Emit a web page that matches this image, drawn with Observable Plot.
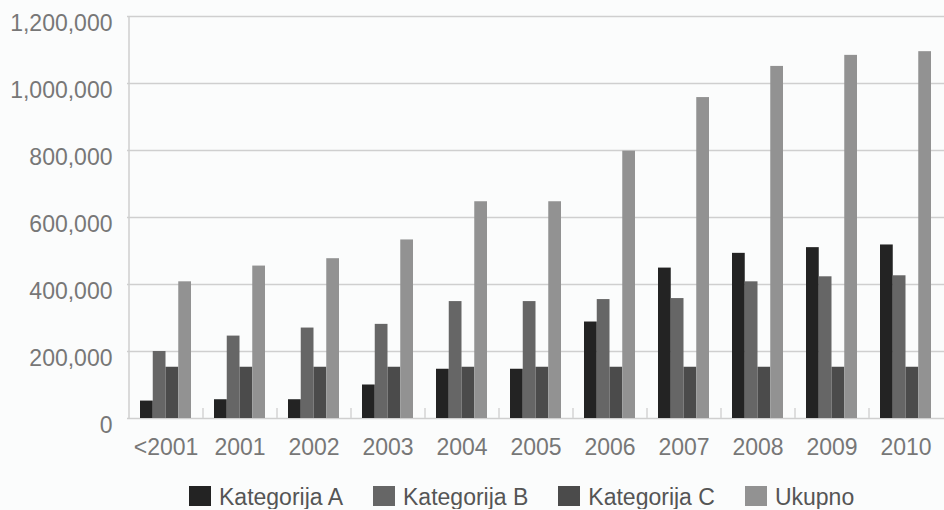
<!DOCTYPE html>
<html>
<head>
<meta charset="utf-8">
<script src="https://cdn.jsdelivr.net/npm/d3@7"></script>
<script src="https://cdn.jsdelivr.net/npm/@observablehq/plot@0.6"></script>
<style>
  html, body { margin: 0; padding: 0; background: #fbfcfc; overflow: hidden; }
  #chart svg { display: block; }
  .legend {
    display: flex; align-items: flex-start;
    padding-left: 189px; margin-top: 15px;
    font: 23px "Liberation Sans", Arial, sans-serif; color: #555; line-height: 24px;
  }
  .legend .item { display: flex; align-items: flex-start; margin-right: 30px; }
  .legend .sw { width: 22px; height: 20px; margin-top: 1px; margin-right: 8px; }
</style>
</head>
<body>
<div id="chart"></div>
<script>
// Years on the horizontal axis
const years = ["<2001", "2001", "2002", "2003", "2004", "2005", "2006", "2007", "2008", "2009", "2010"];

// Series values per year
const kategorijaA = [52000, 56000, 56000, 100000, 147000, 147000, 288000, 449000, 493000, 510000, 518000];
const kategorijaB = [200000, 246000, 270000, 281000, 349000, 349000, 355000, 358000, 408000, 423000, 426000];
const kategorijaC = [153000, 153000, 153000, 153000, 153000, 153000, 153000, 153000, 153000, 153000, 153000];
const ukupno = [408000, 455000, 477000, 533000, 647000, 647000, 798000, 958000, 1051000, 1084000, 1095000];

const seriesNames = ["Kategorija A", "Kategorija B", "Kategorija C", "Ukupno"];
const seriesColors = ["#232323", "#666666", "#4b4b4b", "#929292"];
const seriesValues = [kategorijaA, kategorijaB, kategorijaC, ukupno];

// Value axis ticks
const yTicks = [0, 200000, 400000, 600000, 800000, 1000000, 1200000];

const rows = seriesValues.flatMap((vals, s) =>
  vals.map((v, i) => ({year: years[i], series: seriesNames[s], value: v}))
);

const W = 944, H = 470, mTop = 16, mBottom = 52, mLeft = 127, mRight = 0;
const xOpts = {domain: years, paddingInner: 0.31, paddingOuter: 0.155};
const base = {
  width: W, height: H,
  marginTop: mTop, marginBottom: mBottom, marginLeft: mLeft, marginRight: mRight
};

// First pass to read the band geometry of the year scale
const probe = Plot.plot({
  ...base,
  x: xOpts,
  y: {domain: [0, 1200000]},
  marks: [Plot.barY(years, {x: d => d, y: () => 1})]
});
const sx = probe.scale("x");
const bw = sx.bandwidth, step = sx.step;
const plotH = H - mTop - mBottom;
const n = seriesNames.length;

const chart = Plot.plot({
  ...base,
  style: {fontFamily: "'Liberation Sans', Arial, sans-serif", background: "transparent"},
  x: {...xOpts, axis: null},
  y: {domain: [0, 1200000], axis: null},
  color: {domain: seriesNames, range: seriesColors},
  marks: [
    Plot.ruleY(yTicks, {y: d => d, stroke: "#cfcfcf", strokeWidth: 1.5}),
    Plot.ruleX([years[0]], {x: d => d, dx: -step / 2, stroke: "#cfcfcf", strokeWidth: 1.5}),
    Plot.ruleX(years.slice(1), {x: d => d, dx: -step / 2, insetTop: plotH - 10, stroke: "#d4d4d4", strokeWidth: 1.5}),
    ...seriesNames.map((name, i) =>
      Plot.barY(rows.filter(r => r.series === name), {
        x: "year", y: "value", fill: "series",
        insetLeft: i * bw / n, insetRight: (n - 1 - i) * bw / n
      })
    ),
    Plot.axisY({
      ticks: yTicks, tickSize: 0, tickPadding: 15, dy: 7,
      tickFormat: d3.format(","), fontSize: 23, fill: "#777", label: null
    }),
    Plot.axisX({tickSize: 0, tickPadding: 20, fontSize: 23, fill: "#777", label: null})
  ]
});

document.getElementById("chart").append(chart);

// Legend below the plot
const legend = document.createElement("div");
legend.className = "legend";
seriesNames.forEach((name, i) => {
  const item = document.createElement("div");
  item.className = "item";
  const sw = document.createElement("span");
  sw.className = "sw";
  sw.style.background = seriesColors[i];
  const label = document.createElement("span");
  label.textContent = name;
  item.append(sw, label);
  legend.append(item);
});
document.getElementById("chart").append(legend);
</script>
</body>
</html>
